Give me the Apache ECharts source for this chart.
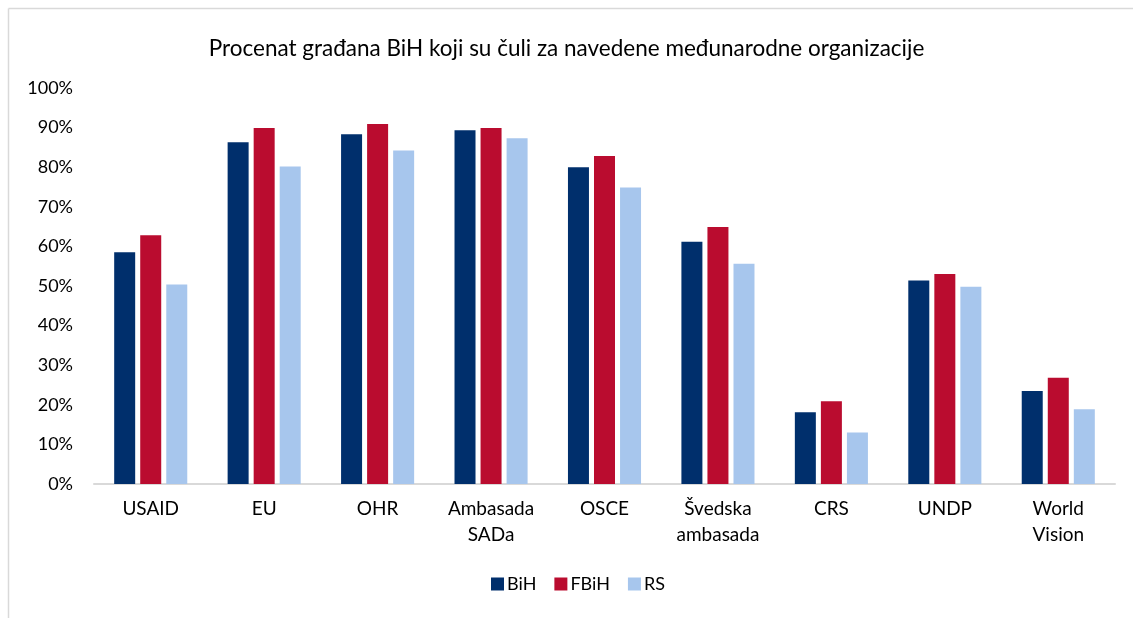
<!DOCTYPE html>
<html>
<head>
<meta charset="utf-8">
<script src="https://cdn.jsdelivr.net/npm/echarts@6/dist/echarts.min.js"></script>
<style>
html,body{margin:0;padding:0;background:#fff;}
#chart{width:1133px;height:618px;}
</style>
</head>
<body>
<div id="chart"></div>
<script>
const categories = ['USAID', 'EU', 'OHR', 'Ambasada\nSADa', 'OSCE', 'Švedska\nambasada', 'CRS', 'UNDP', 'World\nVision'];
const seriesNames = ['BiH', 'FBiH', 'RS'];
const bihValues  = [58.5, 86.3, 88.3, 89.3, 80.0, 61.2, 18.1, 51.4, 23.5];
const fbihValues = [62.8, 89.9, 90.9, 89.9, 82.8, 64.9, 20.9, 53.0, 26.8];
const rsValues   = [50.4, 80.2, 84.2, 87.3, 74.9, 55.6, 13.0, 49.8, 18.9];
const yTicks = [0, 10, 20, 30, 40, 50, 60, 70, 80, 90, 100];
const titleText = 'Procenat građana BiH koji su čuli za navedene međunarodne organizacije';

const colors = ['#002F6C', '#BA0C2F', '#A7C6ED'];
const font = 'Lato, "Open Sans", sans-serif';

const chart = echarts.init(document.getElementById('chart'), null, {renderer: 'canvas'});
const values = [bihValues, fbihValues, rsValues];

chart.setOption({
  animation: false,
  backgroundColor: '#fff',
  color: colors,
  textStyle: {fontFamily: font, color: '#000'},
  graphic: [
    {type: 'line', shape: {x1: 8.5, y1: 8.5, x2: 1133, y2: 8.5}, style: {stroke: '#d9d9d9', lineWidth: 1.5}, silent: true},
    {type: 'line', shape: {x1: 8.5, y1: 8.5, x2: 8.5, y2: 618}, style: {stroke: '#d9d9d9', lineWidth: 1.5}, silent: true}
  ],
  title: {
    text: titleText,
    left: 'center',
    top: 32,
    textStyle: {fontFamily: font, fontSize: 22.5, fontWeight: 'normal', color: '#000'}
  },
  legend: {
    data: seriesNames,
    left: 486,
    top: 570,
    itemWidth: 13,
    itemHeight: 13,
    itemGap: 18,
    icon: 'rect',
    textStyle: {fontFamily: font, fontSize: 18, color: '#000', padding: [0, 0, 0, -2]}
  },
  grid: {left: 94, right: 18, top: 88, bottom: 134, containLabel: false},
  xAxis: {
    type: 'category',
    data: categories,
    axisLine: {show: true, lineStyle: {color: '#d9d9d9', width: 2}},
    axisTick: {show: false},
    axisLabel: {fontFamily: font, fontSize: 19, color: '#000', margin: 12, lineHeight: 26, interval: 0}
  },
  yAxis: {
    type: 'value',
    min: yTicks[0],
    max: yTicks[yTicks.length - 1],
    interval: 10,
    axisLine: {show: false},
    axisTick: {show: false},
    splitLine: {show: false},
    axisLabel: {fontFamily: font, fontSize: 18, color: '#000', margin: 21, formatter: v => v + '%'}
  },
  series: seriesNames.map((name, i) => ({
    name: name,
    type: 'bar',
    data: values[i],
    barWidth: 21,
    barGap: '24%',
    itemStyle: {color: colors[i]}
  }))
});
</script>
</body>
</html>
